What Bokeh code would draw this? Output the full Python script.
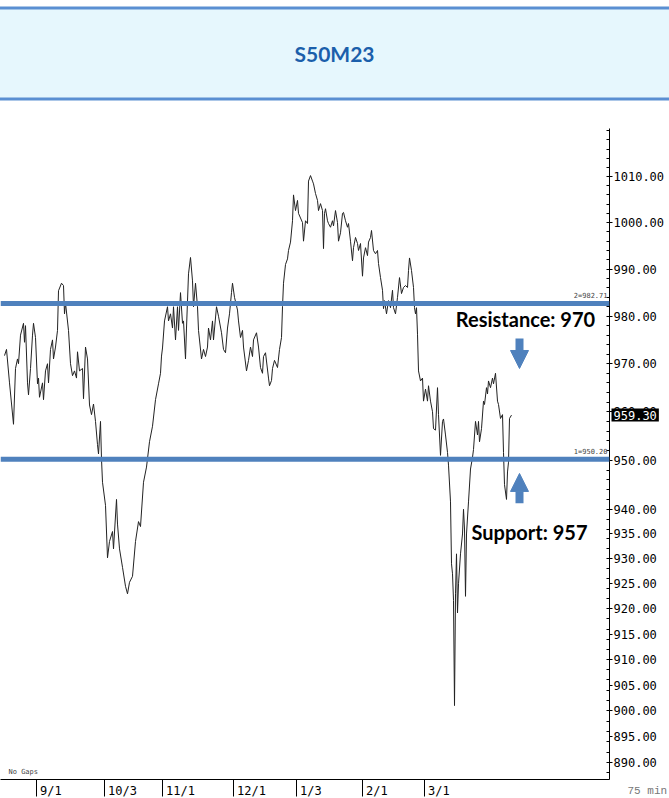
from bokeh.plotting import figure
from bokeh.models import (Range1d, FixedTicker, PrintfTickFormatter, Span, Label,
                          Arrow, NormalHead, ColumnDataSource)
from bokeh.embed import file_html
from bokeh.resources import INLINE

# ---------------- data ----------------
title_text = "S50M23"

bars = [4, 6, 9, 13, 15, 17, 18, 20, 23, 24, 25, 27, 28, 30, 32, 33, 35, 37, 38, 39,
        42, 43, 45, 47, 48, 50, 52, 53, 55, 57, 58, 61, 63, 64, 65, 68, 70, 72, 74, 76,
        77, 79, 82, 83, 85, 87, 89, 91, 93, 95, 97, 98, 100, 101, 102, 105, 107, 109, 112, 113,
        116, 117, 119, 122, 125, 127, 129, 132, 135, 138, 140, 143, 146, 149, 152, 155, 158, 160, 161, 162,
        164, 167, 168, 170, 172, 173, 175, 177, 178, 180, 182, 183, 185, 186, 188, 190, 192, 193, 195, 197,
        198, 201, 203, 205, 207, 208, 210, 212, 213, 216, 218, 221, 223, 225, 227, 229, 231, 232, 234, 237,
        238, 240, 242, 243, 246, 248, 250, 252, 253, 256, 258, 260, 262, 263, 265, 268, 269, 271, 272, 274,
        277, 279, 281, 282, 283, 285, 287, 288, 290, 292, 293, 295, 297, 298, 300, 302, 303, 305, 307, 308,
        310, 312, 313, 315, 317, 318, 320, 322, 323, 324, 325, 327, 328, 330, 332, 333, 335, 337, 338, 340,
        342, 343, 345, 347, 348, 350, 352, 353, 355, 357, 358, 360, 362, 363, 365, 367, 368, 370, 371, 373,
        375, 377, 378, 380, 382, 383, 384, 386, 388, 390, 392, 393, 395, 397, 399, 401, 403, 405, 407, 408,
        409, 411, 413, 414, 415, 416, 417, 418, 420, 422, 423, 425, 427, 428, 430, 432, 433, 435, 437, 438,
        440, 442, 443, 445, 447, 448, 450, 451, 452, 453, 454, 455, 456, 457, 458, 460, 462, 463, 464, 465,
        466, 468, 470, 472, 473, 475, 477, 478, 479, 481, 483, 484, 486, 487, 488, 490, 492, 493, 495, 497,
        498, 500, 502, 503, 504, 506, 507, 508, 509, 511]

prices = [971.7, 973.0, 966.0, 957.4, 969.0, 971.0, 970.0, 976.0, 978.5, 974.5, 978.0, 966.0, 963.5, 969.0, 976.0, 978.5, 975.5, 965.8, 967.0, 963.0,
          966.0, 962.5, 968.5, 970.0, 966.0, 973.0, 975.0, 971.0, 973.5, 977.0, 985.4, 987.0, 986.5, 980.5, 982.8, 977.0, 970.0, 967.5, 968.5, 967.0,
          972.5, 968.5, 969.0, 962.7, 973.5, 971.0, 961.4, 959.4, 961.6, 958.0, 953.2, 951.3, 958.0, 950.2, 945.5, 940.8, 930.2, 933.5, 935.5, 932.0,
          942.0, 937.0, 932.0, 928.3, 924.5, 923.0, 925.3, 926.5, 933.5, 937.5, 936.5, 945.5, 948.6, 953.8, 957.0, 962.5, 965.8, 968.0, 971.6, 973.3,
          979.0, 982.0, 979.0, 980.5, 977.5, 982.0, 975.0, 982.0, 977.0, 985.0, 978.5, 979.0, 971.0, 977.5, 989.0, 992.5, 987.5, 982.0, 987.0, 982.0,
          977.0, 971.0, 973.0, 971.5, 973.5, 977.5, 975.0, 979.0, 975.0, 982.0, 980.0, 976.5, 973.0, 972.3, 977.5, 980.5, 985.0, 987.0, 984.0, 981.3,
          979.0, 975.5, 977.0, 973.5, 968.5, 970.7, 973.5, 971.5, 975.0, 976.5, 973.5, 969.2, 968.0, 971.5, 972.3, 967.0, 965.4, 966.5, 969.0, 970.7,
          969.2, 973.0, 975.5, 982.0, 987.0, 991.0, 992.2, 994.0, 995.8, 1000.4, 1006.0, 1002.6, 1004.8, 1002.0, 1001.0, 1000.0, 996.0, 1000.4, 999.8, 1009.0,
          1010.2, 1009.0, 1008.4, 1006.3, 1004.8, 1002.6, 1004.1, 1002.6, 994.4, 1002.0, 1003.0, 1000.4, 999.8, 999.0, 1000.4, 999.3, 1002.6, 1000.0, 996.0, 997.8,
          1002.0, 1002.2, 1000.4, 999.0, 999.8, 996.0, 991.8, 994.6, 996.8, 995.5, 994.0, 995.5, 988.5, 992.4, 994.6, 992.9, 995.8, 996.8, 998.3, 994.0,
          993.3, 994.0, 991.2, 988.2, 985.5, 981.6, 983.3, 980.5, 983.3, 981.8, 985.5, 981.8, 980.5, 984.0, 988.2, 984.8, 986.1, 986.5, 986.1, 989.7,
          992.4, 989.7, 986.1, 981.8, 980.5, 981.8, 976.2, 968.5, 966.4, 967.0, 962.2, 964.7, 962.2, 965.4, 962.2, 960.0, 956.5, 956.2, 965.0, 959.4,
          951.0, 958.0, 958.5, 955.2, 951.6, 949.0, 941.5, 929.0, 927.0, 921.7, 901.0, 923.0, 931.0, 919.2, 925.0, 931.0, 935.0, 940.0, 936.0, 922.5,
          935.0, 941.5, 948.2, 950.6, 952.2, 958.0, 955.2, 958.0, 953.8, 956.5, 962.2, 961.5, 965.0, 963.7, 966.4, 965.0, 967.0, 965.8, 968.0, 962.2,
          961.5, 958.6, 959.4, 951.6, 945.0, 942.0, 947.6, 949.6, 958.6, 959.3]

tick_bars = [36, 104, 162, 233, 296, 362, 424]
tick_labels = ["9/1", "10/3", "11/1", "12/1", "1/3", "2/1", "3/1"]

y_ticks = [890, 895, 900, 905, 910, 915, 920, 925, 930, 935, 940,
           950, 960, 970, 980, 990, 1000, 1010]

level_values = [982.71, 950.20]
level_names = ["2=982.71", "1=950.20"]
last_price = 959.30

resistance_text = "Resistance: 970"
support_text = "Support: 957"

# ---------------- styles ----------------
BLUE = "#4F81BD"
MONO = "DejaVu Sans Mono"

p = figure(frame_width=609, frame_height=651,
           x_range=Range1d(0, 609), y_range=Range1d(886.74, 1020.52),
           y_axis_type="log", y_axis_location="right", x_axis_location="below",
           output_backend="svg", toolbar_location=None,
           min_border_left=0, min_border_right=60, min_border_top=128, min_border_bottom=0)
p.grid.visible = False
p.outline_line_color = None
p.background_fill_color = "white"
p.border_fill_color = "white"

src = ColumnDataSource(dict(bar=bars, price=prices))
p.line("bar", "price", source=src, line_color="#222222", line_width=1)

for v, name in zip(level_values, level_names):
    p.add_layout(Span(location=v, dimension="width", line_color=BLUE, line_width=5))
    p.add_layout(Label(x=607, y=v, text=name, text_align="right", text_baseline="bottom",
                       y_offset=3, text_font=MONO, text_font_size="7px", text_color="#444444"))

# y axis (right)
ya = p.yaxis[0]
ya.ticker = FixedTicker(ticks=y_ticks, minor_ticks=list(range(888, 1021, 2)))
ya.formatter = PrintfTickFormatter(format="%.2f")
ya.major_label_text_font = MONO
ya.major_label_text_font_size = "12px"
ya.major_label_text_color = "black"
ya.major_tick_out = 3
ya.major_tick_in = 0
ya.minor_tick_in = 3
ya.minor_tick_out = 0
ya.major_label_standoff = 1
ya.axis_line_color = "black"

# x axis (below)
xa = p.xaxis[0]
xa.ticker = FixedTicker(ticks=tick_bars, minor_ticks=[])
xa.major_label_overrides = {b: "\u00a0" * (len(t) + 1) + t for b, t in zip(tick_bars, tick_labels)}
xa.major_label_text_font = MONO
xa.major_label_text_font_size = "12px"
xa.major_label_text_color = "black"
xa.major_tick_out = 17
xa.major_tick_in = 0
xa.major_label_standoff = -13
xa.axis_line_color = "black"

# header band (in the top side panel, anchored with the plot's scales)
p.add_layout(Label(x=334, y=1037.17, text=title_text, text_align="center",
                   text_baseline="middle", text_font="Lato", text_font_style="bold",
                   text_font_size="21px", text_color="#1B5FAB",
                   background_fill_color="#E6F7FD", border_line_color="#5A8FD2",
                   border_line_width=3,
                   padding=dict(left=420, right=420, top=33, bottom=33)), "above")

# last price box
p.add_layout(Label(x=611, y=last_price, text="%.2f" % last_price,
                   text_baseline="middle", text_align="left", text_font=MONO,
                   text_font_size="12px", text_color="white",
                   background_fill_color="black", padding=2), "above")

p.add_layout(Label(x=627, y=885.78, text="75 min", text_baseline="top",
                   text_font="Liberation Mono", text_font_size="11px",
                   text_color="#777777"), "above")

# annotations
p.add_layout(Label(x=525, y=979.5, text=resistance_text, text_align="center",
                   text_baseline="middle", text_font="Lato", text_font_style="bold",
                   text_font_size="20px", text_color="black"))
p.add_layout(Label(x=529, y=935.5, text=support_text, text_align="center",
                   text_baseline="middle", text_font="Lato", text_font_style="bold",
                   text_font_size="20px", text_color="black"))
p.add_layout(Arrow(end=NormalHead(size=18, fill_color=BLUE, line_color=BLUE),
                   x_start=519, y_start=975.3, x_end=519, y_end=969.0,
                   line_color=BLUE, line_width=8))
p.add_layout(Arrow(end=NormalHead(size=18, fill_color=BLUE, line_color=BLUE),
                   x_start=519, y_start=941.2, x_end=519, y_end=947.3,
                   line_color=BLUE, line_width=8))

p.add_layout(Label(x=8, y=4, x_units="screen", y_units="screen", text="No Gaps",
                   text_font=MONO, text_font_size="7px", text_color="#444444"))

open("out.html", "w").write(file_html(p, INLINE))
